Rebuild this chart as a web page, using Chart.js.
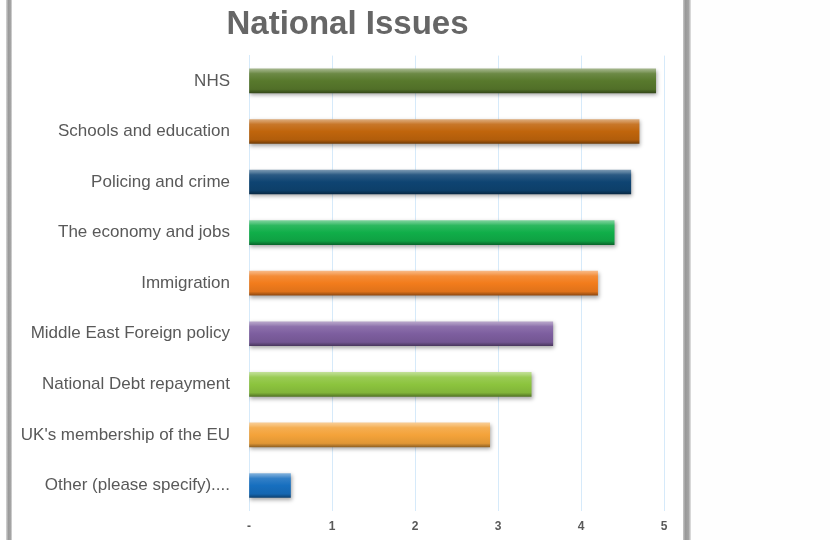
<!DOCTYPE html>
<html lang="en">
<head>
    <meta charset="UTF-8">
    <title>National Issues</title>
    <script src="https://cdn.jsdelivr.net/npm/chart.js"></script>
    <style>
        body { margin: 0; background: #fefefe; }
        .edge { position: absolute; top: 0; height: 540px; }
        #edgeLeft { left: 6px; width: 6px; background: linear-gradient(to right, #d8d8d8, #999 40%, #a6a6a6 80%, #e4e4e4); }
        #edgeRight { left: 683px; width: 8px; background: linear-gradient(to right, #c8c8c8, #999 30%, #a4a4a4 70%, #e6e6e6); }
        #panel { position: absolute; left: 12px; top: 0; width: 671px; height: 540px; background: #fff; }
    </style>
</head>
<body>
    <div class="edge" id="edgeLeft"></div>
    <div id="panel"><canvas id="issuesChart" width="671" height="540"></canvas></div>
    <div class="edge" id="edgeRight"></div>

    <script>
        // Données
        const categories = [
            'NHS',
            'Schools and education',
            'Policing and crime',
            'The economy and jobs',
            'Immigration',
            'Middle East Foreign policy',
            'National Debt repayment',
            "UK's membership of the EU",
            'Other (please specify)....'
        ];
        const scores = [4.9, 4.7, 4.6, 4.4, 4.2, 3.66, 3.4, 2.9, 0.5];
        const barColours = ['#58792c', '#c0650c', '#0e4472', '#10ae49', '#f27c1c', '#7d5e9f', '#8cc43e', '#f4a33a', '#176fbf'];
        const xTickLabels = ['-', '1', '2', '3', '4', '5'];

        function mix(hex, target, amt) {
            const n = parseInt(hex.slice(1), 16);
            const c = [n >> 16, (n >> 8) & 255, n & 255].map(v => Math.round(v + (target - v) * amt));
            return 'rgb(' + c.join(',') + ')';
        }

        // dégradé "3D" pour chaque barre
        function barFill(ctx) {
            const base = barColours[ctx.dataIndex];
            const chart = ctx.chart;
            const ys = chart.scales && chart.scales.y;
            if (!ys || ctx.type !== 'data') return base;
            const yc = ys.getPixelForValue(ctx.dataIndex);
            if (!Number.isFinite(yc)) return base;
            const g = chart.ctx.createLinearGradient(0, yc - 12, 0, yc + 12);
            g.addColorStop(0, mix(base, 255, 0.45));
            g.addColorStop(0.1, mix(base, 255, 0.3));
            g.addColorStop(0.2, mix(base, 255, 0.12));
            g.addColorStop(0.5, base);
            g.addColorStop(0.85, mix(base, 0, 0.08));
            g.addColorStop(1, mix(base, 0, 0.4));
            return g;
        }

        const shadow = {
            id: 'shadow',
            beforeDatasetsDraw(chart) {
                const c = chart.ctx;
                c.save();
                c.shadowColor = 'rgba(0,0,0,0.35)';
                c.shadowBlur = 4;
                c.shadowOffsetX = 1;
                c.shadowOffsetY = 2;
            },
            afterDatasetsDraw(chart) {
                chart.ctx.restore();
            }
        };

        new Chart(document.getElementById('issuesChart'), {
            type: 'bar',
            data: {
                labels: categories,
                datasets: [{
                    data: scores,
                    backgroundColor: barFill,
                    barThickness: 24,
                    borderWidth: 0
                }]
            },
            options: {
                indexAxis: 'y',
                responsive: false,
                animation: false,
                layout: { padding: 0 },
                plugins: {
                    legend: { display: false },
                    tooltip: { enabled: false },
                    title: {
                        display: true,
                        text: 'National Issues',
                        color: '#666666',
                        font: { family: 'Liberation Sans', size: 33, weight: 'bold' },
                        padding: { top: 5, bottom: 11 }
                    }
                },
                scales: {
                    x: {
                        min: 0,
                        max: 5,
                        afterFit: s => { s.height = 29; },
                        ticks: {
                            stepSize: 1,
                            padding: 9,
                            color: '#595959',
                            font: { family: 'Liberation Sans', size: 12, weight: 'bold' },
                            callback: (v, i) => xTickLabels[i]
                        },
                        grid: { color: '#d6eafa', lineWidth: 1, drawTicks: false },
                        border: { display: false }
                    },
                    y: {
                        afterFit: s => { s.width = 237; },
                        ticks: {
                            padding: 19,
                            color: '#595959',
                            font: { family: 'Liberation Sans', size: 17 }
                        },
                        grid: { display: false, drawTicks: false },
                        border: { color: '#d6eafa' }
                    },
                    // marge droite sans décaler le titre
                    spacer: {
                        type: 'linear',
                        axis: 'y',
                        position: 'right',
                        afterFit: s => { s.width = 19; },
                        ticks: { display: false },
                        grid: { display: false, drawTicks: false },
                        border: { display: false }
                    }
                }
            },
            plugins: [shadow]
        });
    </script>
</body>
</html>
